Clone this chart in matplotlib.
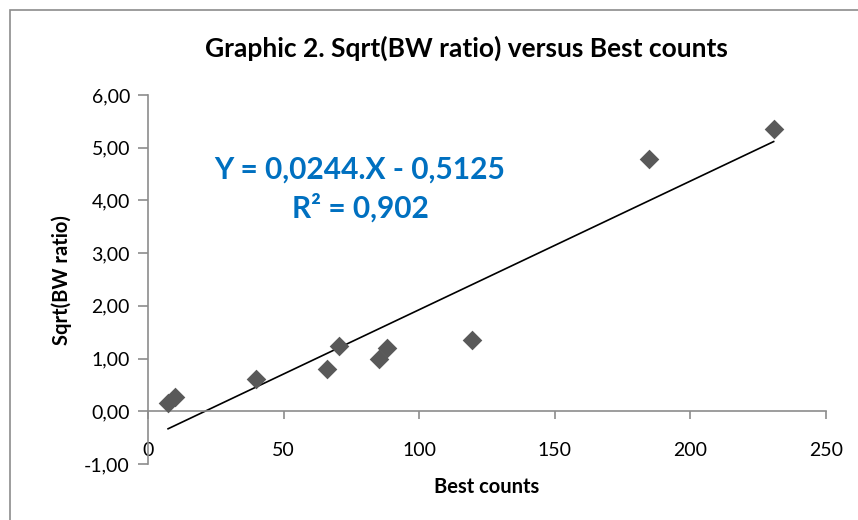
import matplotlib
matplotlib.use("Agg")
from matplotlib import pyplot as plt
from matplotlib.patches import Rectangle
import numpy as np

# data
best_counts = [7.4, 10.0, 40.0, 66.0, 70.4, 85.2, 88.1, 119.3, 184.8, 230.7]
sqrt_bw = [0.15, 0.28, 0.62, 0.80, 1.23, 0.99, 1.21, 1.35, 4.78, 5.35]
slope = 0.0244
intercept = -0.5125
r2 = 0.902
xticks = [0, 50, 100, 150, 200, 250]
yticks = [-1, 0, 1, 2, 3, 4, 5, 6]

plt.rcParams['font.family'] = ['Lato', 'DejaVu Sans']

fig = plt.figure(figsize=(8.58, 5.2), dpi=100)
ax = fig.add_axes([148/858, 1-464/520, (826-148)/858, (464-95)/520])

# outer chart border (cut off at right and bottom)
fig.patches.append(Rectangle((10/858, -0.1), 1.2, 1.1 - 10/520, transform=fig.transFigure,
                             fill=False, edgecolor='#8c8c8c', lw=1.2))

ax.scatter(best_counts, sqrt_bw, marker='D', s=100, color='#595959', zorder=3, linewidths=0)

xfit = np.array([min(best_counts), max(best_counts)])
ax.plot(xfit, slope*xfit + intercept, color='black', lw=1.2, zorder=2)

ax.set_xlim(0, 250)
ax.set_ylim(-1, 6)
ax.set_xticks(xticks)
ax.set_yticks(yticks)
ax.set_yticklabels([('%.2f' % v).replace('.', ',') for v in yticks])

for s in ['top', 'right']:
    ax.spines[s].set_visible(False)
ax.spines['bottom'].set_position(('data', 0))
for s in ['bottom', 'left']:
    ax.spines[s].set_color('#8c8c8c')
    ax.spines[s].set_linewidth(1.2)
ax.tick_params(axis='x', direction='out', length=6, width=1.2, color='#8c8c8c', labelsize=14, pad=16)
ax.tick_params(axis='y', direction='out', length=7, width=1.2, color='#8c8c8c', labelsize=14, pad=6)

fig.text(466/858, 1-48/520, 'Graphic 2. Sqrt(BW ratio) versus Best counts',
         ha='center', va='center', fontsize=19, fontweight='bold')
fig.text(487/858, 1-487/520, 'Best counts', ha='center', va='center', fontsize=14.5, fontweight='bold')
fig.text(62/858, 1-280/520, 'Sqrt(BW ratio)', ha='center', va='center', rotation=90,
         fontsize=14.5, fontweight='bold')

eq = 'Y = %s.X - %s' % (str(slope).replace('.', ','), str(-intercept).replace('.', ','))
fig.text(360/858, 1-170/520, eq, ha='center', va='center', fontsize=21.5, fontweight='bold', color='#0070C0')
fig.text(360/858, 1-208/520, 'R² = ' + str(r2).replace('.', ','), ha='center', va='center',
         fontsize=21.5, fontweight='bold', color='#0070C0')

fig.savefig('out.png', dpi=100)
